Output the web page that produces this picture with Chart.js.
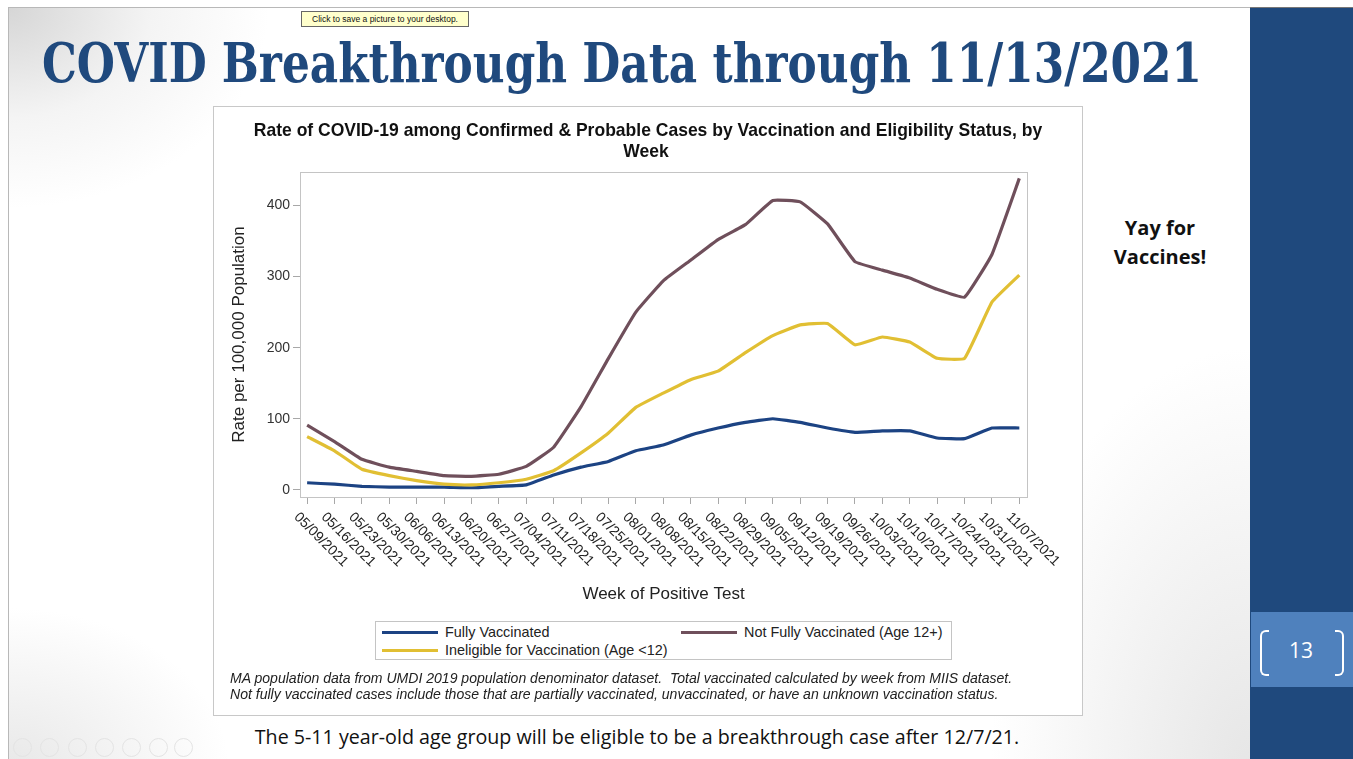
<!DOCTYPE html>
<html>
<head>
<meta charset="utf-8">
<script src="https://cdn.jsdelivr.net/npm/chart.js@4/dist/chart.umd.min.js"></script>
<style>
  html, body { margin: 0; padding: 0; }
  body { width: 1353px; height: 759px; position: relative; overflow: hidden; background: #fff; font-family: "Liberation Sans", Arial, sans-serif; }
  #slide { position: absolute; left: 8px; top: 7px; width: 1242px; height: 760px; border-left: 1px solid #b8b8b8; border-top: 1px solid #b8b8b8;
    background: radial-gradient(ellipse 260px 200px at 0 0, #d6d6d6 0%, #f4f4f4 55%, rgba(255,255,255,0) 100%),
                radial-gradient(ellipse 260px 420px at 100% 100%, #e6e6e6 0%, rgba(255,255,255,0) 100%),
                radial-gradient(ellipse 220px 160px at 0 100%, #e8e8e8 0%, rgba(255,255,255,0) 100%), #fff; }
  #band { position: absolute; left: 1250px; top: 7px; width: 103px; height: 752px; background: #1f497d; border-top: 1px solid #777; }
  #pagebox { position: absolute; left: 1251px; top: 612px; width: 102px; height: 75px; background: #4f81bd; }
  .brk { position: absolute; top: 18px; width: 7px; height: 42px; border: 2px solid #fff; }
  #pnum { position: absolute; left: 50px; top: 38px; transform: translate(-50%, -50%); color: #fff; font-size: 21px; line-height: 1; font-family: "Open Sans", sans-serif; }
  .t { position: absolute; white-space: nowrap; line-height: 1; }
  #title { left: 42px; top: 62px; color: #1f497d; font-family: "DejaVu Serif", "Liberation Serif", serif; font-weight: bold; font-size: 55px; transform-origin: 0 50%; }
  #tip { position: absolute; left: 301px; top: 11px; width: 166px; height: 14px; background: #ffffcc; border: 1px solid #666; font-size: 8.5px; line-height: 14px; text-align: center; color: #111; }
  #panel { position: absolute; left: 213px; top: 106px; width: 868px; height: 608px; border: 1px solid #c8c8c8; background: #fff; }
  #chartwrap { position: absolute; left: 213px; top: 106px; width: 870px; height: 610px; }
  .ctr { transform: translate(-50%, -50%); }
  #ct1, #ct2 { font-weight: bold; font-size: 16px; color: #111; }
  #legend { position: absolute; left: 375px; top: 621px; width: 575px; height: 37px; border: 1px solid #c4c4c4; background: #fff; }
  .li { position: absolute; height: 18px; font-size: 14.4px; color: #222; white-space: nowrap; line-height: 18px; }
  .li i { position: absolute; left: 0; top: 8px; width: 56px; height: 3px; }
  .li span { position: absolute; left: 63px; top: 0; }
  .fn { font-style: italic; font-size: 12.5px; color: #222; left: 230px; }
  #caption { font-family: "Open Sans", sans-serif; font-size: 19px; color: #111; }
  .yay { font-family: "Open Sans", sans-serif; font-weight: bold; font-size: 20px; color: #111; }
  .ico { position: absolute; top: 738px; width: 17px; height: 17px; border: 1px solid #e4e4e4; border-radius: 50%; }
</style>
</head>
<body>
<div id="slide"></div>
<div id="band"></div>
<div id="pagebox">
  <div class="brk" style="left:9px;border-right:none;border-radius:6px 0 0 6px"></div>
  <div class="brk" style="right:9px;border-left:none;border-radius:0 6px 6px 0"></div>
  <div id="pnum">13</div>
</div>

<div id="tip">Click to save a picture to your desktop.</div>
<div id="title" class="t" style="transform: translateY(-50%)">COVID Breakthrough Data through 11/13/2021</div>

<div id="panel"></div>
<div id="chartwrap"><canvas id="chart"></canvas></div>

<div id="ct1" class="t ctr" style="left:648px;top:131px">Rate of COVID-19 among Confirmed &amp; Probable Cases by Vaccination and Eligibility Status, by</div>
<div id="ct2" class="t ctr" style="left:646px;top:152px">Week</div>

<div id="legend"></div>

<div id="fn1" class="t fn" style="top:678px;transform:translateY(-50%)">MA population data from UMDI 2019 population denominator dataset.&nbsp; Total vaccinated calculated by week from MIIS dataset.</div>
<div id="fn2" class="t fn" style="top:694px;transform:translateY(-50%)">Not fully vaccinated cases include those that are partially vaccinated, unvaccinated, or have an unknown vaccination status.</div>

<div id="caption" class="t ctr" style="left:637px;top:737px">The 5-11 year-old age group will be eligible to be a breakthrough case after 12/7/21.</div>

<div class="t yay ctr" style="left:1160px;top:228px">Yay for</div>
<div id="yay2" class="t yay ctr" style="left:1160px;top:257px">Vaccines!</div>

<script>
const weeks = ['05/09/2021','05/16/2021','05/23/2021','05/30/2021','06/06/2021','06/13/2021','06/20/2021',
  '06/27/2021','07/04/2021','07/11/2021','07/18/2021','07/25/2021','08/01/2021','08/08/2021','08/15/2021',
  '08/22/2021','08/29/2021','09/05/2021','09/12/2021','09/19/2021','09/26/2021','10/03/2021','10/10/2021',
  '10/17/2021','10/24/2021','10/31/2021','11/07/2021'];

const fullyVaccinated = [10, 8, 5, 4, 4, 4, 3, 5, 7, 21, 32, 40, 55, 63, 77, 87, 95, 100, 95, 87, 81, 83, 83, 73, 72, 87, 87];
const notFullyVaccinated = [91, 68, 43, 32, 26, 20, 19, 22, 33, 60, 117, 185, 250, 294, 323, 352, 373, 407, 405, 374, 321, 309, 298, 282, 271, 331, 438];
const ineligible = [75, 55, 29, 20, 13, 8, 7, 10, 15, 27, 52, 80, 116, 136, 155, 167, 193, 217, 232, 234, 204, 215, 208, 185, 185, 264, 302];

const yTicks = [0, 100, 200, 300, 400];

const seriesNames = ['Fully Vaccinated', 'Not Fully Vaccinated (Age 12+)', 'Ineligible for Vaccination (Age <12)'];
const seriesColors = ['#1c4383', '#6f4f5b', '#e1bf33'];

// fit a text element to the width it has in the picture
function fitWidth(id, w, useScale) {
  const el = document.getElementById(id);
  const cur = el.getBoundingClientRect().width;
  if (useScale) {
    el.style.transform = 'translateY(-50%) scaleX(' + (w / cur) + ')';
  } else {
    const fs = parseFloat(getComputedStyle(el).fontSize);
    el.style.fontSize = (fs * w / cur) + 'px';
  }
}
fitWidth('title', 1160, true);
fitWidth('ct1', 789);
document.getElementById('ct2').style.fontSize = document.getElementById('ct1').style.fontSize;
fitWidth('fn1', 783);
document.getElementById('fn2').style.fontSize = document.getElementById('fn1').style.fontSize;
fitWidth('caption', 765);

// legend, two columns like the SAS output
const legend = document.getElementById('legend');
const legendPos = [[6, 1], [305, 1], [6, 19]];
seriesNames.forEach((name, i) => {
  const d = document.createElement('div');
  d.className = 'li';
  d.style.left = legendPos[i][0] + 'px';
  d.style.top = legendPos[i][1] + 'px';
  d.innerHTML = '<i style="background:' + seriesColors[i] + '"></i><span></span>';
  d.querySelector('span').textContent = name;
  legend.appendChild(d);
});

// footer icons of the slideshow
[22, 49, 77, 104, 131, 158, 183].forEach(x => {
  const c = document.createElement('div');
  c.className = 'ico';
  c.style.left = (x - 9) + 'px';
  document.body.appendChild(c);
});

const toPoints = arr => arr.map((v, i) => ({ x: i, y: v }));

const frame = {
  id: 'frame',
  beforeDatasetsDraw(chart) {
    const a = chart.chartArea, ctx = chart.ctx;
    ctx.save();
    ctx.strokeStyle = '#c4c4c4';
    ctx.lineWidth = 1;
    ctx.strokeRect(Math.round(a.left) + 0.5, Math.round(a.top) + 0.5, Math.round(a.right - a.left), Math.round(a.bottom - a.top));
    ctx.restore();
  },
  afterDraw(chart) {
    // week labels go down to the right, which chart.js won't do on its own
    const ctx = chart.ctx, xs = chart.scales.x, bottom = chart.chartArea.bottom;
    ctx.save();
    ctx.font = '14px "Liberation Sans", Arial, sans-serif';
    ctx.fillStyle = '#222';
    ctx.textAlign = 'left';
    ctx.textBaseline = 'top';
    weeks.forEach((w, i) => {
      ctx.save();
      ctx.translate(xs.getPixelForValue(i) - 6, bottom + 13);
      ctx.rotate(Math.PI / 4);
      ctx.fillText(w, 0, 0);
      ctx.restore();
    });
    ctx.restore();
  }
};

const datasets = [fullyVaccinated, notFullyVaccinated, ineligible].map((arr, i) => ({
  label: seriesNames[i],
  data: toPoints(arr),
  borderColor: seriesColors[i],
  backgroundColor: seriesColors[i],
  borderWidth: 3.2,
  pointRadius: 0,
  tension: 0.1,
  borderJoinStyle: 'round'
}));
// draw order: yellow below the brown like the original
datasets.reverse();

new Chart(document.getElementById('chart'), {
  type: 'line',
  data: { datasets: datasets },
  options: {
    responsive: true,
    maintainAspectRatio: false,
    animation: false,
    layout: { padding: { left: 16, top: 66, right: 56, bottom: 111 } },
    plugins: { legend: { display: false }, tooltip: { enabled: false } },
    scales: {
      x: {
        type: 'linear',
        min: -0.26,
        max: 26.28,
        afterBuildTicks: s => { s.ticks = weeks.map((w, i) => ({ value: i })); },
        afterFit: s => { s.height = 108; },
        ticks: { display: false },
        grid: { drawOnChartArea: false, drawTicks: true, tickLength: 7, color: '#a8a8a8' },
        border: { display: false },
        title: { display: true, text: 'Week of Positive Test', color: '#222', padding: 0,
          font: { size: 17, family: '"Liberation Sans", Arial, sans-serif' } }
      },
      y: {
        min: -10,
        max: 447,
        afterBuildTicks: s => { s.ticks = yTicks.map(v => ({ value: v })); },
        afterFit: s => { s.width = 71; },
        ticks: { color: '#333', padding: 3, font: { size: 14, family: '"Liberation Sans", Arial, sans-serif' } },
        grid: { drawOnChartArea: false, drawTicks: true, tickLength: 7, color: '#a8a8a8' },
        border: { display: false },
        title: { display: true, text: 'Rate per 100,000 Population', color: '#222', padding: 0,
          font: { size: 17, family: '"Liberation Sans", Arial, sans-serif' } }
      }
    }
  },
  plugins: [frame]
});
</script>
</body>
</html>
